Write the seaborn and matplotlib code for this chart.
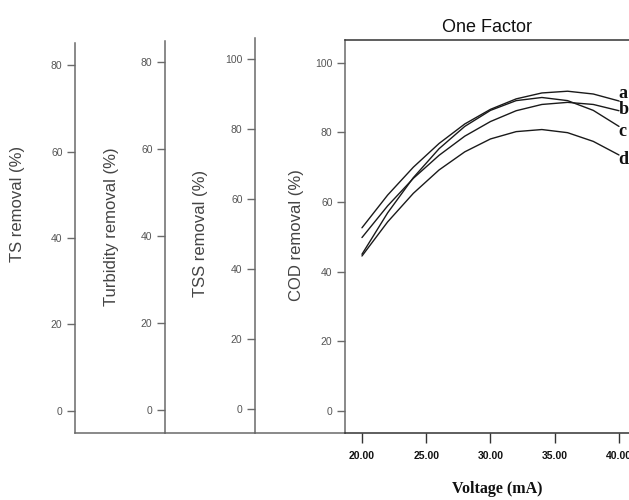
import matplotlib
matplotlib.use("Agg")
import matplotlib.pyplot as plt
import seaborn as sns
import pandas as pd

# ---- data ----
voltage = [20, 22, 24, 26, 28, 30, 32, 34, 36, 38, 40]
cod_a = [52.6, 62.0, 70.0, 76.8, 82.4, 86.6, 89.6, 91.3, 91.8, 91.0, 89.0]
cod_b = [49.8, 58.9, 66.8, 73.4, 78.9, 83.1, 86.2, 88.0, 88.6, 88.0, 86.2]
cod_c = [45.0, 56.9, 67.0, 75.3, 81.7, 86.3, 89.1, 90.0, 89.1, 86.3, 81.7]
cod_d = [44.5, 54.3, 62.5, 69.2, 74.4, 78.1, 80.2, 80.8, 79.9, 77.4, 73.5]
series_names = ["a", "b", "c", "d"]
x_ticks = [20, 25, 30, 35, 40]
ts_ticks = [0, 20, 40, 60, 80]
turb_ticks = [0, 20, 40, 60, 80]
tss_ticks = [0, 20, 40, 60, 80, 100]
cod_ticks = [0, 20, 40, 60, 80, 100]

rows = []
for name, vals in zip(series_names, [cod_a, cod_b, cod_c, cod_d]):
    for v, y in zip(voltage, vals):
        rows.append({"Voltage": v, "COD": y, "series": name})
df = pd.DataFrame(rows)

sns.set_style("white")
plt.rcParams["font.family"] = ["Liberation Sans", "DejaVu Sans"]

W, H = 629, 500
fig = plt.figure(figsize=(W / 100, H / 100), dpi=100)


def frac(l, r, top, bot):
    return [l / W, (H - bot) / H, (r - l) / W, (bot - top) / H]


ax_ts = fig.add_axes(frac(75, 165, 43, 433), facecolor="none")
ax_tb = fig.add_axes(frac(165, 255, 41, 433), facecolor="none")
ax_tss = fig.add_axes(frac(255, 345, 38, 433), facecolor="none")
ax = fig.add_axes(frac(345, 629, 40, 433), facecolor="none")

spine_gray = "#6a6a6a"
label_gray = "#555555"

side = [(ax_ts, (-5.1, 85.1), ts_ticks),
        (ax_tb, (-5.3, 84.9), turb_ticks),
        (ax_tss, (-6.8, 106.1), tss_ticks)]
for a, lim, ticks in side:
    a.set_ylim(*lim)
    a.set_xlim(0, 1)
    a.set_yticks(ticks)
    a.set_xticks([])
    for s in ["top", "right"]:
        a.spines[s].set_visible(False)
    for s in ["left", "bottom"]:
        a.spines[s].set_color(spine_gray)
        a.spines[s].set_linewidth(1.1)
    a.tick_params(axis="y", direction="out", length=6, width=1.0,
                  color=spine_gray, pad=3, labelsize=7.5, labelcolor=label_gray,
                  left=True)

# main plot
sns.lineplot(data=df, x="Voltage", y="COD", hue="series",
             palette=["#1a1a1a"] * 4, linewidth=1.0, legend=False, ax=ax)
ax.set_xlim(18.68, 40.78)
ax.set_ylim(-6.3, 106.5)
ax.set_xticks(x_ticks)
ax.set_xticklabels([f"{t:.2f}" for t in x_ticks])
ax.set_yticks(cod_ticks)
ax.spines["right"].set_visible(False)
ax.spines["top"].set_color("#333333")
ax.spines["bottom"].set_color("#333333")
ax.spines["left"].set_color(spine_gray)
for s in ["top", "bottom", "left"]:
    ax.spines[s].set_linewidth(1.1)
ax.tick_params(axis="y", direction="out", length=6, width=1.0,
               color=spine_gray, pad=3, labelsize=7.5, labelcolor=label_gray, left=True)
ax.tick_params(axis="x", direction="out", length=7, width=1.0,
               color="#333333", pad=6, labelsize=7.5, labelcolor="#111111", bottom=True)
for lab in ax.get_xticklabels():
    lab.set_fontweight("bold")
ax.set_xlabel("")
ax.set_ylabel("")

# curve labels
label_offsets = {"a": 2.2, "b": 0.3, "c": -1.5, "d": -1.4}
for name, vals in zip(series_names, [cod_a, cod_b, cod_c, cod_d]):
    ax.text(voltage[-1] - 0.05, vals[-1] + label_offsets[name], name,
            ha="left", va="center", fontsize=13, fontweight="bold",
            family=["Liberation Serif", "DejaVu Serif"], color="#111111",
            clip_on=False)

ax.set_title("One Factor", fontsize=13, color="#111111", pad=6)

fig.text(497 / W, 1 - 489 / H, "Voltage (mA)", ha="center", va="center",
         fontsize=11.5, fontweight="bold",
         family=["Liberation Serif", "DejaVu Serif"], color="#111111")

ylab_kw = dict(rotation=90, ha="center", va="center", fontsize=12, color="#444444")
fig.text(18 / W, 1 - 204 / H, "TS removal (%)", **ylab_kw)
fig.text(112 / W, 1 - 227 / H, "Turbidity removal (%)", **ylab_kw)
fig.text(200 / W, 1 - 233 / H, "TSS removal (%)", **ylab_kw)
fig.text(297 / W, 1 - 235 / H, "COD removal (%)", **ylab_kw)

fig.savefig("out.png", dpi=100)
